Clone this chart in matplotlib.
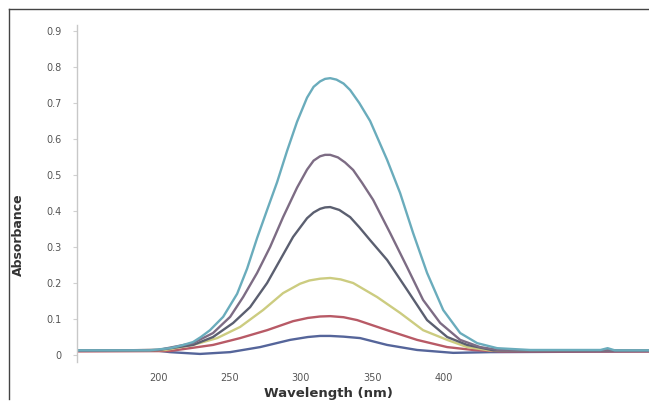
import matplotlib
matplotlib.use("Agg")
import matplotlib.pyplot as plt
from matplotlib.lines import Line2D

# ---- data ----
wl1 = [143, 194, 208.4, 216, 224.5, 230, 236.4, 245.6, 255.4, 262.4, 269.4, 276.4, 283.4, 290.4, 297.4, 304.4,
       309, 313.5, 317, 320.6, 325, 330, 334.6, 341, 348.6, 360.5, 369.6, 378.7, 388.5, 399.8, 411.7, 423.6,
       437.6, 460.7, 510, 515, 520, 545]
ab1 = [0.013, 0.013, 0.019, 0.026, 0.036, 0.050, 0.069, 0.106, 0.170, 0.240, 0.325, 0.403, 0.480, 0.567, 0.648, 0.715,
       0.745, 0.760, 0.767, 0.769, 0.765, 0.754, 0.736, 0.700, 0.650, 0.542, 0.450, 0.339, 0.228, 0.125, 0.061, 0.033,
       0.019, 0.014, 0.014, 0.019, 0.013, 0.013]

wl2 = [143, 200, 224.5, 238.5, 250.5, 259.6, 269.4, 278.5, 287.6, 297.4, 304.4, 309, 313.5, 317, 320.6, 326, 331,
       336.7, 343, 350.7, 362.6, 374.5, 385.7, 397.7, 411.7, 425.7, 440, 545]
ab2 = [0.012, 0.014, 0.033, 0.061, 0.106, 0.161, 0.228, 0.300, 0.383, 0.465, 0.515, 0.540, 0.552, 0.556, 0.556, 0.549, 0.535,
       0.514, 0.478, 0.431, 0.339, 0.244, 0.153, 0.089, 0.042, 0.022, 0.013, 0.012]

wl3 = [143, 200, 224.5, 238.5, 252.6, 264.5, 276.4, 285.5, 294.6, 304.4, 309, 313.5, 317, 320.6, 327, 334.6, 341,
       348.6, 360.5, 374.5, 388.5, 402.6, 416.6, 435, 545]
ab3 = [0.012, 0.014, 0.028, 0.050, 0.089, 0.133, 0.200, 0.264, 0.328, 0.380, 0.396, 0.406, 0.410, 0.411, 0.403, 0.383, 0.355,
       0.319, 0.264, 0.181, 0.097, 0.050, 0.028, 0.013, 0.012]

wl4 = [143, 205, 224.5, 241.4, 257.5, 273.6, 287.6, 299.5, 306, 313.5, 320.6, 328, 336.7, 353.5, 369.6, 385.7,
       402.6, 416.6, 432, 545]
ab4 = [0.012, 0.014, 0.028, 0.047, 0.078, 0.125, 0.172, 0.198, 0.207, 0.212, 0.214, 0.210, 0.200, 0.161, 0.117, 0.069,
       0.042, 0.022, 0.013, 0.012]

wl5 = [143, 208, 222.4, 238.5, 257.5, 276.4, 294.6, 305, 313.5, 320.6, 330, 339.5, 360.5, 381.5, 402.6, 420.8, 440, 545]
ab5 = [0.010, 0.011, 0.019, 0.028, 0.047, 0.069, 0.094, 0.103, 0.107, 0.108, 0.105, 0.097, 0.069, 0.042, 0.022, 0.014, 0.010, 0.010]

wl6 = [143, 200, 208.4, 229.4, 250.5, 271.5, 292.5, 305, 313.5, 320.6, 330, 341.6, 360.5, 381.5, 406.8, 432.7, 545]
ab6 = [0.012, 0.012, 0.008, 0.003, 0.008, 0.022, 0.042, 0.050, 0.053, 0.053, 0.051, 0.047, 0.028, 0.014, 0.006, 0.008, 0.010]

series = [(wl6, ab6), (wl5, ab5), (wl4, ab4), (wl3, ab3), (wl2, ab2), (wl1, ab1)]
colors = ["#55659a", "#b85a66", "#cccc80", "#5b5f70", "#7d6c84", "#6aacbc"]

yticks = [0, 0.1, 0.2, 0.3, 0.4, 0.5, 0.6, 0.7, 0.8, 0.9]
ytick_labels = ["0", "0.1", "0.2", "0.3", "0.4", "0.5", "0.6", "0.7", "0.8", "0.9"]
xticks = [200, 250, 300, 350, 400]
xtick_labels = ["200", "250", "300", "350", "400"]

# ---- figure ----
W, H = 649, 409
fig = plt.figure(figsize=(W / 100, H / 100), dpi=100)
fig.patch.set_facecolor("white")

left_px, right_px, top_px, bot_px = 77, 649, 25, 362
ax = fig.add_axes([left_px / W, 1 - bot_px / H, (right_px - left_px) / W, (bot_px - top_px) / H])

for (x, y), c in zip(series, colors):
    ax.plot(x, y, color=c, lw=1.7, solid_capstyle="round", solid_joinstyle="round")

ax.set_xlim(143.2, 544)
ax.set_ylim(-0.0194, 0.9167)

for s in ["top", "right", "bottom"]:
    ax.spines[s].set_visible(False)
ax.spines["left"].set_color("#c8c8c8")
ax.spines["left"].set_linewidth(1.0)

ax.set_yticks(yticks)
ax.set_yticklabels(ytick_labels)
ax.set_xticks(xticks)
ax.set_xticklabels(xtick_labels)
ax.tick_params(axis="y", length=3, color="#d0d0d0", labelsize=7, labelcolor="#555555", pad=8)
ax.tick_params(axis="x", length=0, labelsize=7, labelcolor="#555555", pad=8)

fig.text(18 / W, 1 - 235 / H, "Absorbance", rotation=90, ha="center", va="center",
         fontsize=9, fontweight="bold", color="#333333")
fig.text(328 / W, 1 - 393 / H, "Wavelength (nm)", ha="center", va="center",
         fontsize=9.5, fontweight="bold", color="#333333")

# outer frame (top and left borders)
fig.add_artist(Line2D([9 / W, 1.0], [1 - 9 / H, 1 - 9 / H], transform=fig.transFigure, color="#444444", lw=1.0))
fig.add_artist(Line2D([9 / W, 9 / W], [1 - 9 / H, 1 - 399 / H], transform=fig.transFigure, color="#444444", lw=1.0))

fig.savefig("out.png", dpi=100)
